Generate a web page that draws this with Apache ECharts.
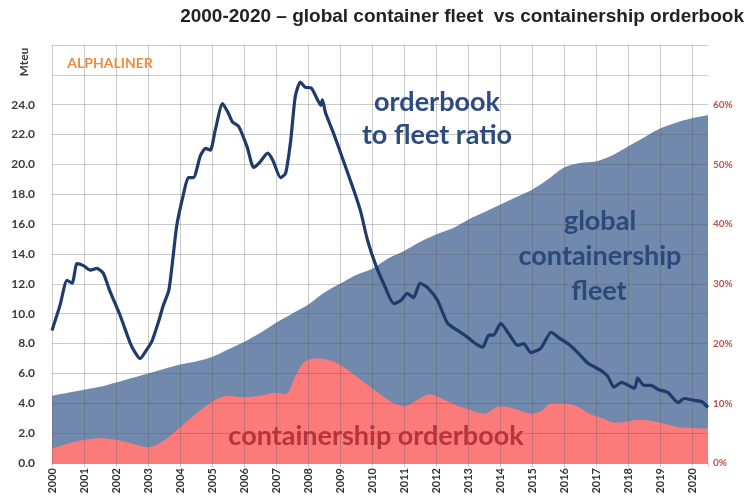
<!DOCTYPE html>
<html>
<head>
<meta charset="utf-8">
<script src="https://cdn.jsdelivr.net/npm/echarts@6/dist/echarts.min.js"></script>
<style>
html,body{margin:0;padding:0;background:#fff;}
#chart{width:745px;height:504px;}
</style>
</head>
<body>
<div id="chart"></div>
<script>
// ---- data ----
var fleetYears = [2000,2000.5,2001,2001.5,2002,2002.5,2003,2003.5,2004,2004.5,2005,2005.5,2006,2006.5,2007,2007.5,2008,2008.5,2009,2009.5,2010,2010.5,2011,2011.5,2012,2012.5,2013,2013.5,2014,2014.5,2015,2015.5,2016,2016.5,2017,2017.5,2018,2018.5,2019,2019.5,2020,2020.5];
var fleetTeu = [4.5,4.7,4.9,5.1,5.4,5.7,6.0,6.3,6.6,6.8,7.1,7.6,8.1,8.7,9.4,10.0,10.6,11.4,12.0,12.6,13.0,13.7,14.2,14.8,15.3,15.7,16.3,16.8,17.3,17.8,18.3,19.0,19.8,20.1,20.2,20.6,21.2,21.8,22.4,22.8,23.1,23.3];

var orderYears = [2000,2000.5,2001,2001.5,2002,2002.5,2003,2003.5,2004,2004.5,2005,2005.5,2006,2006.5,2007,2007.3,2007.6,2007.9,2008.3,2008.8,2009.2,2009.7,2010.2,2010.6,2011,2011.4,2011.8,2012.2,2012.6,2013,2013.5,2014,2014.5,2015,2015.3,2015.6,2016,2016.4,2016.8,2017.2,2017.6,2018,2018.4,2018.8,2019.2,2019.6,2020,2020.5];
var orderTeu = [0.95,1.3,1.55,1.65,1.55,1.3,1.05,1.5,2.4,3.3,4.1,4.5,4.4,4.5,4.7,4.6,5.8,6.8,7.0,6.8,6.3,5.5,4.7,4.1,3.8,4.2,4.6,4.3,3.9,3.6,3.3,3.8,3.6,3.3,3.5,4.0,4.0,3.8,3.3,3.0,2.7,2.8,2.9,2.8,2.6,2.4,2.35,2.3];

var ratioYears = [2000,2000.25,2000.47,2000.63,2000.78,2000.97,2001.2,2001.4,2001.6,2001.8,2002.13,2002.45,2002.6,2002.75,2002.95,2003.13,2003.32,2003.48,2003.65,2003.77,2003.9,2004.1,2004.26,2004.42,2004.64,2004.8,2004.95,2005.1,2005.33,2005.5,2005.64,2005.83,2006.1,2006.3,2006.5,2006.74,2006.9,2007.14,2007.3,2007.46,2007.6,2007.76,2007.92,2008.1,2008.3,2008.4,2008.45,2008.55,2008.8,2009.1,2009.43,2009.65,2009.86,2010.12,2010.36,2010.68,2010.9,2011.1,2011.3,2011.5,2011.73,2012.05,2012.36,2012.68,2013,2013.24,2013.46,2013.65,2013.8,2014.02,2014.27,2014.55,2014.74,2014.96,2015.27,2015.6,2015.83,2016.12,2016.43,2016.75,2017.15,2017.37,2017.56,2017.8,2018.2,2018.3,2018.5,2018.72,2018.94,2019.25,2019.57,2019.75,2020.07,2020.3,2020.5];
var ratioPct = [22.2,26.4,30.6,30.1,33.4,33.1,32.3,32.6,31.8,28.9,24.7,20.0,18.5,17.5,18.9,20.5,23.5,26.4,28.9,33.9,39.8,44.8,47.8,47.8,51.5,52.7,52.4,55.7,60.2,58.7,57.1,56.4,52.9,49.5,50.4,51.9,50.7,47.8,48.5,54.0,61.3,63.8,62.9,62.8,60.8,59.9,60.8,58.6,55.2,50.7,45.7,42.0,37.3,33.1,30.1,26.7,27.2,28.4,27.7,30.1,29.4,27.2,23.4,22.2,21.0,20.0,19.4,21.4,21.4,23.4,21.7,19.7,20.0,18.5,19.2,21.9,21.0,20.0,18.5,16.7,15.5,14.5,12.7,13.5,12.5,14.2,13.0,13.0,12.3,11.8,10.1,10.8,10.5,10.3,9.3];

var leftTicks = [0,2,4,6,8,10,12,14,16,18,20,22,24];
var rightTicks = [0,10,20,30,40,50,60];

function pairs(xs, ys){ return xs.map(function(x,i){ return [x, ys[i]]; }); }

var chart = echarts.init(document.getElementById('chart'), null, {renderer:'canvas'});
var gridCol = 'rgba(90,90,90,0.32)';
var annFont = 'bold 27px Lato, "Open Sans", sans-serif';
var option = {
  animation:false,
  backgroundColor:'#ffffff',
  grid:{left:52, right:37, top:45, bottom:41, containLabel:false},
  xAxis:{
    type:'value', min:2000, max:2020.5, interval:1, z:4,
    axisLine:{show:true, lineStyle:{color:'rgba(90,90,90,0.35)'}},
    axisTick:{show:true, length:4, lineStyle:{color:gridCol}},
    splitLine:{show:true, showMaxLine:false, lineStyle:{color:gridCol, width:1}},
    axisLabel:{rotate:90, margin:5, fontFamily:'Lato, "Open Sans", sans-serif', fontWeight:'bold', fontSize:11, color:'#333',
      formatter:function(v){ return (v%1===0) ? String(v) : ''; }}
  },
  yAxis:[{
    type:'value', min:0, max:28, interval:2, z:4,
    axisLine:{show:false}, axisTick:{show:false},
    splitLine:{show:true, lineStyle:{color:gridCol, width:1}},
    axisLabel:{margin:17, fontFamily:'Lato, "Open Sans", sans-serif', fontWeight:'bold', fontSize:12, color:'#3a3a3a',
      formatter:function(v){ return leftTicks.indexOf(v)>=0 ? v.toFixed(1) : ''; }}
  },{
    type:'value', min:0, max:70, interval:10, z:4, position:'right',
    axisLine:{show:false}, axisTick:{show:false}, splitLine:{show:false},
    axisLabel:{margin:5, fontFamily:'Lato, "Open Sans", sans-serif', fontWeight:'bold', fontSize:10, color:'#c0504d',
      formatter:function(v){ return rightTicks.indexOf(v)>=0 ? v+'%' : ''; }}
  }],
  series:[{
    name:'global containership fleet', type:'line', yAxisIndex:0, z:1,
    data:pairs(fleetYears, fleetTeu), symbol:'none', smooth:0.3,
    lineStyle:{width:0}, areaStyle:{color:'#7089ac', opacity:1}
  },{
    name:'containership orderbook', type:'line', yAxisIndex:0, z:2,
    data:pairs(orderYears, orderTeu), symbol:'none', smooth:0.3,
    lineStyle:{width:0}, areaStyle:{color:'#fb7a7a', opacity:1}
  },{
    name:'orderbook to fleet ratio', type:'line', yAxisIndex:1, z:6,
    data:pairs(ratioYears, ratioPct), symbol:'none', smooth:0.2,
    lineStyle:{width:3.2, color:'#1f3a6b'}
  }],
  graphic:[
    {type:'text', z:100, right:1, top:7, style:{text:'2000-2020 \u2013 global container fleet  vs containership orderbook', font:'bold 19px "Liberation Sans Narrow", "Arial Narrow", "Liberation Sans", sans-serif', fill:'#222'}},
    {type:'text', z:100, x:24, y:62, rotation:Math.PI/2, style:{text:'Mteu', font:'bold 12px Lato, sans-serif', fill:'#3a3a3a', align:'center', verticalAlign:'middle'}},
    {type:'text', z:100, x:110, y:63, style:{text:'ALPHALINER', font:'bold 14px Lato, sans-serif', fill:'#f08a3c', align:'center', verticalAlign:'middle'}},
    {type:'text', z:100, x:437, y:102, style:{text:'orderbook', font:annFont, fill:'#2d4c7e', align:'center', verticalAlign:'middle'}},
    {type:'text', z:100, x:437, y:135, style:{text:'to fleet ratio', font:annFont, fill:'#2d4c7e', align:'center', verticalAlign:'middle'}},
    {type:'text', z:100, x:600, y:221, style:{text:'global', font:annFont, fill:'#2a4a7c', align:'center', verticalAlign:'middle'}},
    {type:'text', z:100, x:600, y:256, style:{text:'containership', font:annFont, fill:'#2a4a7c', align:'center', verticalAlign:'middle'}},
    {type:'text', z:100, x:599, y:291, style:{text:'fleet', font:annFont, fill:'#2a4a7c', align:'center', verticalAlign:'middle'}},
    {type:'text', z:100, x:376, y:436, style:{text:'containership orderbook', font:annFont, fill:'#b8343c', align:'center', verticalAlign:'middle'}}
  ]
};
chart.setOption(option);
</script>
</body>
</html>
